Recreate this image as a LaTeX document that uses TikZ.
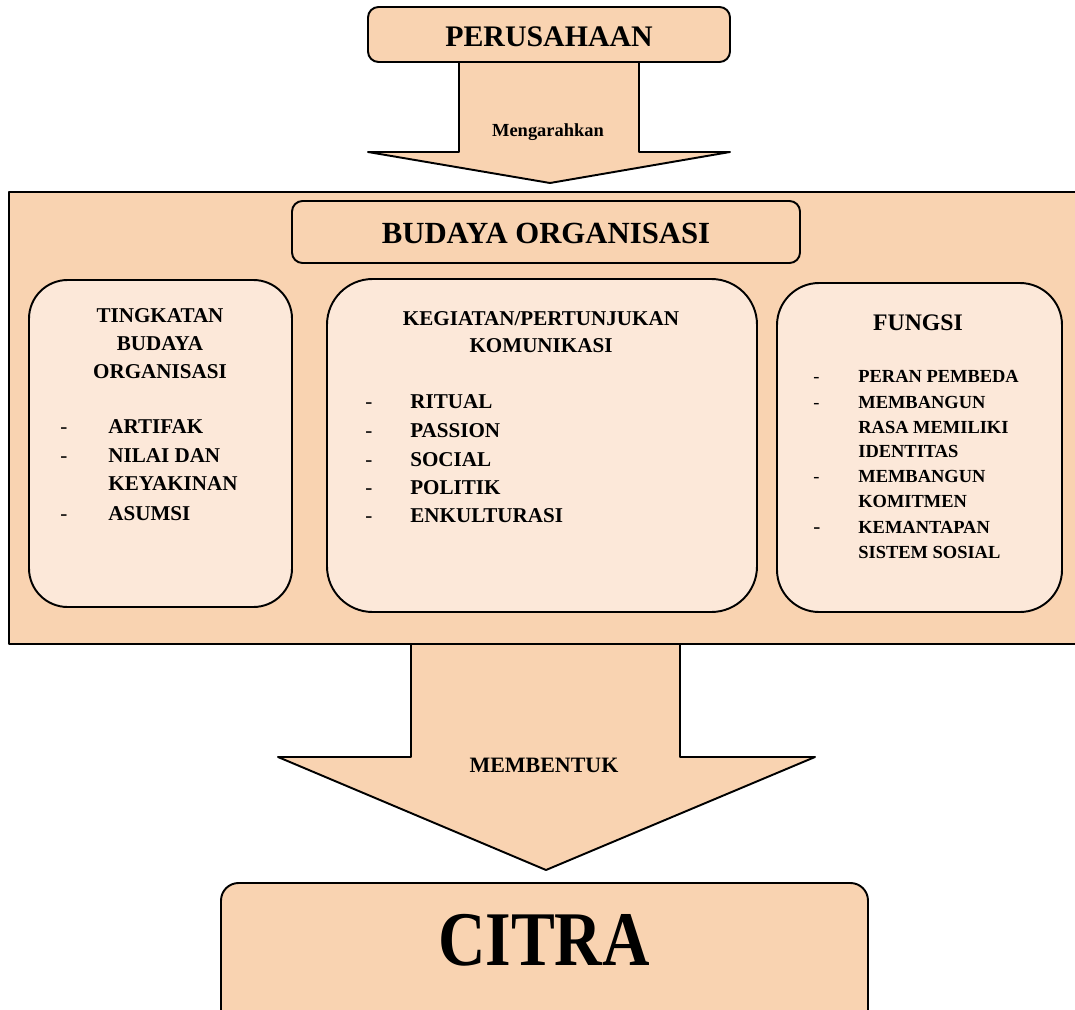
\documentclass[tikz,border=0pt]{standalone}
\usepackage{fontspec}
\setmainfont{Liberation Serif}
\usetikzlibrary{fit}
\definecolor{peach}{HTML}{F9D3B1}
\definecolor{lightpeach}{HTML}{FCE8D9}
\tikzset{
  outline/.style={draw=black, line width=1.1pt, line join=round},
  bigbox/.style={outline, fill=peach, inner sep=0pt},
  softbox/.style={outline, fill=lightpeach, inner sep=0pt},
  lbl/.style={inner sep=0pt, anchor=base},
  item/.style={inner sep=0pt, anchor=base west, font=\fontsize{12}{14}\selectfont\bfseries},
  smallitem/.style={inner sep=0pt, anchor=base west, font=\fontsize{10.5}{12}\selectfont\bfseries},
  dashmark/.style={inner sep=0pt, anchor=base west, font=\fontsize{12}{14}\selectfont},
  smalldash/.style={inner sep=0pt, anchor=base west, font=\fontsize{10.5}{12}\selectfont},
  head12/.style={lbl, font=\fontsize{12}{14}\selectfont\bfseries}
}
\begin{document}
\begin{tikzpicture}[x=0.02cm, y=-0.02cm]
\useasboundingbox (0,0) rectangle (1075,1010);
\clip (0,0) rectangle (1075,1010);

% top block arrow
\coordinate (tA1) at (459,62);
\coordinate (tA2) at (459,152);
\coordinate (tA3) at (368,152);
\coordinate (tTip) at (550,183);
\coordinate (tA5) at (730,152);
\coordinate (tA6) at (639,152);
\coordinate (tA7) at (639,62);
\path[bigbox] (tA1) -- (tA2) -- (tA3) -- (tTip) -- (tA5) -- (tA6) -- (tA7) -- cycle;

% PERUSAHAAN box
\node[bigbox, rounded corners=6pt, fit={(368,7) (730,62)}] (perusahaan) {};
\node[lbl, font=\fontsize{17}{20}\selectfont\bfseries] (perusahaanT) at (549,47) {PERUSAHAAN};
\node[lbl, font=\fontsize{10.5}{12}\selectfont\bfseries] (mengarahkan) at (548,137) {Mengarahkan};

% bottom block arrow
\coordinate (bA1) at (411,640);
\coordinate (bA2) at (411,757);
\coordinate (bA3) at (278,757);
\coordinate (bTip) at (546,870);
\coordinate (bA5) at (815,757);
\coordinate (bA6) at (680,757);
\coordinate (bA7) at (680,640);
\path[bigbox] (bA1) -- (bA2) -- (bA3) -- (bTip) -- (bA5) -- (bA6) -- (bA7) -- cycle;

% outer container
\node[bigbox, fit={(9,192) (1085,644)}] (budaya) {};

% title box
\node[bigbox, rounded corners=6pt, fit={(292,201) (800,263)}] (budayaBox) {};
\node[lbl, font=\fontsize{17.5}{20}\selectfont\bfseries] (budayaT) at (546,244) {BUDAYA ORGANISASI};

% three inner boxes
\node[softbox, rounded corners=22pt, fit={(29,280) (292,607)}] (tingkatan) {};
\node[softbox, rounded corners=26pt, fit={(327,279) (757,612)}] (kegiatan) {};
\node[softbox, rounded corners=24pt, fit={(777,283) (1062,612)}] (fungsi) {};

% left box text
\node[head12] (l1) at (160,322) {TINGKATAN};
\node[head12] (l2) at (160,350) {BUDAYA};
\node[head12] (l3) at (160,378) {ORGANISASI};
\node[dashmark] (ld1) at (60,433) {-};
\node[item] (li1) at (108,433) {ARTIFAK};
\node[dashmark] (ld2) at (60,462) {-};
\node[item] (li2) at (108,462) {NILAI DAN};
\node[item] (li3) at (108,490) {KEYAKINAN};
\node[dashmark] (ld3) at (60,520) {-};
\node[item] (li4) at (108,520) {ASUMSI};

% middle box text
\node[head12] (m1) at (541,325) {KEGIATAN/PERTUNJUKAN};
\node[head12] (m2) at (541,352) {KOMUNIKASI};
\foreach \yy/\tt [count=\i] in {408/RITUAL,437/PASSION,466/SOCIAL,494/POLITIK,522/ENKULTURASI}{
  \node[dashmark] (md\i) at (365,\yy) {-};
  \node[item] (mi\i) at (410,\yy) {\tt};
}

% right box text
\node[lbl, font=\fontsize{13.5}{16}\selectfont\bfseries] (r0) at (918,330) {FUNGSI};
\node[smalldash] (rd1) at (813,382) {-};
\node[smallitem] (ri1) at (858,382) {PERAN PEMBEDA};
\node[smalldash] (rd2) at (813,408) {-};
\node[smallitem] (ri2) at (858,408) {MEMBANGUN};
\node[smallitem] (ri3) at (858,433) {RASA MEMILIKI};
\node[smallitem] (ri4) at (858,457) {IDENTITAS};
\node[smalldash] (rd3) at (813,482) {-};
\node[smallitem] (ri5) at (858,482) {MEMBANGUN};
\node[smallitem] (ri6) at (858,507) {KOMITMEN};
\node[dashmark] (rd4) at (813,533) {-};
\node[smallitem] (ri7) at (858,533) {KEMANTAPAN};
\node[smallitem] (ri8) at (858,558) {SISTEM SOSIAL};

% bottom label
\node[lbl, font=\fontsize{12.5}{15}\selectfont\bfseries] (membentuk) at (544,772) {MEMBENTUK};

% CITRA box
\node[bigbox, rounded corners=10pt, fit={(221,883) (868,1060)}] (citra) {};
\node[lbl, font=\fontsize{44}{50}\selectfont\bfseries, xscale=0.85] (citraT) at (544,965) {CITRA};
\end{tikzpicture}
\end{document}
